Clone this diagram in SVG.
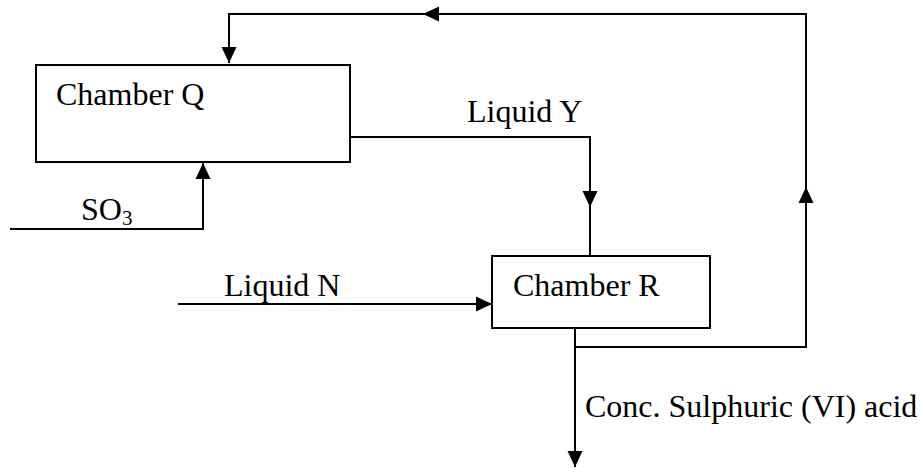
<svg xmlns="http://www.w3.org/2000/svg" width="920" height="468" viewBox="0 0 920 468">
<style>
.box{fill:#fff;stroke:#000;stroke-width:2}
.ln{fill:none;stroke:#000;stroke-width:2}
.t{font-family:"Liberation Serif","Times New Roman",serif;font-size:32px;fill:#000}
</style>
<defs>
<marker id="ah" viewBox="0 0 16 16" refX="16" refY="8" markerWidth="16" markerHeight="16" markerUnits="userSpaceOnUse" orient="auto">
<path d="M0,0.5 L16,8 L0,15.5 z" fill="#000"/>
</marker>
</defs>
<rect width="920" height="468" fill="#fff"/>
<g id="connectors">
<path class="ln" d="M575,347 L806,347 L806,187" marker-end="url(#ah)"/>
<path class="ln" d="M806,187 L806,14 L423,14" marker-end="url(#ah)"/>
<path class="ln" d="M423,14 L229,14 L229,63" marker-end="url(#ah)"/>
<path class="ln" d="M350,137 L590,137 L590,207" marker-end="url(#ah)"/>
<path class="ln" d="M590,207 L590,256"/>
<path class="ln" d="M10,229 L203,229 L203,163" marker-end="url(#ah)"/>
<path class="ln" d="M178,304 L492,304" marker-end="url(#ah)"/>
<path class="ln" d="M575,328 L575,467" marker-end="url(#ah)"/>
</g>
<g id="chamberQ">
<rect class="box" x="36" y="65" width="314" height="97"/>
<text class="t" x="56" y="105">Chamber Q</text>
</g>
<g id="chamberR">
<rect class="box" x="492" y="256" width="218" height="72"/>
<text class="t" x="513" y="296">Chamber R</text>
</g>
<g id="labels">
<text class="t" x="467" y="122">Liquid Y</text>
<text class="t" x="81" y="220">SO<tspan font-size="21" dy="5">3</tspan></text>
<text class="t" x="224" y="296">Liquid N</text>
<text class="t" x="585" y="417">Conc. Sulphuric (VI) acid</text>
</g>
</svg>
